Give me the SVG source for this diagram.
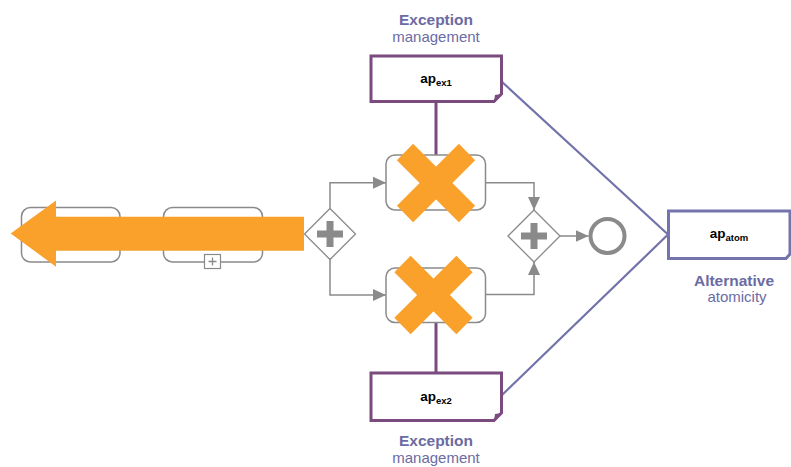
<svg xmlns="http://www.w3.org/2000/svg" width="791" height="467" viewBox="0 0 791 467">
<style>
.task{fill:#fff;stroke:#8a8a8a;stroke-width:1.5}
.flow{fill:none;stroke:#8a8a8a;stroke-width:1.5}
.gw{fill:#fff;stroke:#8a8a8a;stroke-width:1.3}
.plus{fill:#8a8a8a}
.ap{fill:#fff;stroke:#7b4a7f;stroke-width:3}
.atom{fill:#fff;stroke:#7474ab;stroke-width:3}
.link{fill:none;stroke:#7b4a7f;stroke-width:3}
.blue{fill:none;stroke:#7373ab;stroke-width:2.2}
.xx{stroke:#f9a12a;stroke-width:23;stroke-linecap:butt}
.lbl{font-family:"Liberation Sans",Arial,sans-serif;fill:#6b6ba3;text-anchor:middle}
.b{font-weight:bold;font-size:15.5px}
.r{font-size:15px}
.apt{font-family:"Liberation Sans",Arial,sans-serif;font-weight:bold;fill:#000;text-anchor:middle;font-size:13.5px}
.sub{font-size:9.5px}
</style>
<defs>
<marker id="ah" markerUnits="userSpaceOnUse" markerWidth="14" markerHeight="14" viewBox="0 0 14 14" refX="13" refY="7" orient="auto">
<path d="M0,1 L13,7 L0,13 Z" fill="#8a8a8a"/>
</marker>
</defs>

<g id="task1"><rect class="task" x="21.5" y="207.5" width="98.5" height="54.5" rx="9"/></g>
<g id="task2"><rect class="task" x="163.5" y="207.5" width="99" height="54.5" rx="9"/>
<rect x="204.5" y="254.5" width="16" height="14" fill="#fff" stroke="#8a8a8a" stroke-width="1.2"/>
<path d="M208.5,261.5 H216.5 M212.5,257.5 V265.5" stroke="#8a8a8a" stroke-width="1.3"/></g>

<g id="connectors">
<path class="flow" d="M330,208.5 V182.7 H386" marker-end="url(#ah)"/>
<path class="flow" d="M330,259.5 V295 H386" marker-end="url(#ah)"/>
<path class="flow" d="M485.5,182.7 H534 V210" marker-end="url(#ah)"/>
<path class="flow" d="M485.5,294.5 H534 V262" marker-end="url(#ah)"/>
<path class="flow" d="M560,236 H588.5" marker-end="url(#ah)"/>
<path class="link" d="M436,102 V155"/>
<path class="link" d="M436,322.5 V373"/>
<path class="blue" d="M500.5,80.5 L668,234.5 L500,397"/>
</g>

<g id="gateway1"><polygon class="gw" points="330,208.5 355.5,234 330,259.5 304.5,234"/>
<rect class="plus" x="317" y="230.5" width="26" height="7"/><rect class="plus" x="326.5" y="221" width="7" height="26"/></g>

<g id="taskA"><rect class="task" x="386" y="155" width="99.5" height="55" rx="9"/></g>
<g id="taskB"><rect class="task" x="386" y="268" width="99.5" height="54.5" rx="9"/></g>

<g id="gateway2"><polygon class="gw" points="534,210 560,236 534,262 508,236"/>
<rect class="plus" x="521" y="232.5" width="26" height="7"/><rect class="plus" x="530.5" y="223" width="7" height="26"/></g>

<g id="end"><circle cx="607.5" cy="236" r="17" fill="#fff" stroke="#8a8a8a" stroke-width="4"/></g>

<g id="ex1">
<path class="ap" d="M371,56 H501.5 V94 L494,101.5 H371 Z"/>
<path d="M501.5,94 L494,101.5 L495,95 Z" fill="#7b4a7f"/>
<text class="apt" x="436" y="82.5">ap<tspan class="sub" dy="3">ex1</tspan></text>
<text class="lbl b" x="436" y="25">Exception</text>
<text class="lbl r" x="436" y="42">management</text>
</g>

<g id="ex2">
<path class="ap" d="M371,373 H501.5 V413 L494,420.5 H371 Z"/>
<path d="M501.5,413 L494,420.5 L495,414 Z" fill="#7b4a7f"/>
<text class="apt" x="436" y="401">ap<tspan class="sub" dy="3">ex2</tspan></text>
<text class="lbl b" x="436" y="446">Exception</text>
<text class="lbl r" x="436" y="462.5">management</text>
</g>

<g id="atom">
<path class="atom" d="M668.5,211 H790 V254 L786,258.5 H668.5 Z"/>
<text class="apt" x="729" y="238">ap<tspan class="sub" dy="3">atom</tspan></text>
<text class="lbl b" x="734" y="285.5">Alternative</text>
<text class="lbl r" x="737" y="302">atomicity</text>
</g>

<g id="cancel">
<polygon points="10.7,233.5 56,200.5 56,216.7 304,216.7 304,250.7 56,250.7 56,266.7" fill="#f9a12a"/>
<line class="xx" x1="405" y1="152" x2="467" y2="214"/>
<line class="xx" x1="467" y1="152" x2="405" y2="214"/>
<line class="xx" x1="402.5" y1="264" x2="464.5" y2="326"/>
<line class="xx" x1="464.5" y1="264" x2="402.5" y2="326"/>
</g>
</svg>
